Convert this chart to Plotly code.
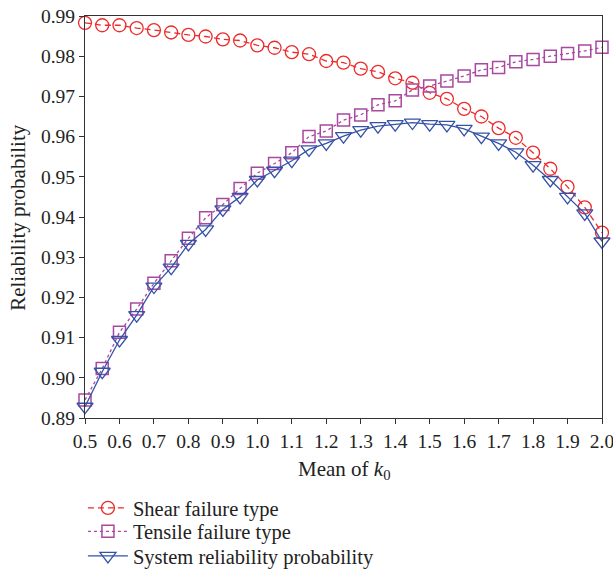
import plotly.graph_objects as go

k0 = [0.5, 0.55, 0.6, 0.65, 0.7, 0.75, 0.8, 0.85, 0.9, 0.95, 1.0, 1.05, 1.1, 1.15, 1.2, 1.25,
      1.3, 1.35, 1.4, 1.45, 1.5, 1.55, 1.6, 1.65, 1.7, 1.75, 1.8, 1.85, 1.9, 1.95, 2.0]

shear = [0.9883, 0.9877, 0.9877, 0.9870, 0.9865, 0.9859, 0.9853, 0.9849, 0.9842, 0.9839,
         0.9827, 0.9821, 0.9810, 0.9805, 0.9788, 0.9784, 0.9769, 0.9761, 0.9745, 0.9734,
         0.9709, 0.9694, 0.9669, 0.9650, 0.9621, 0.9597, 0.9560, 0.9520, 0.9475, 0.9424, 0.9361]

tensile = [0.8945, 0.9023, 0.9113, 0.9171, 0.9235, 0.9291, 0.9347, 0.9398, 0.9431, 0.9471,
           0.9509, 0.9533, 0.9560, 0.9600, 0.9614, 0.9641, 0.9654, 0.9679, 0.9689, 0.9716,
           0.9726, 0.9738, 0.9751, 0.9766, 0.9772, 0.9786, 0.9792, 0.9800, 0.9807, 0.9813, 0.9822]

system = [0.8928, 0.9015, 0.9094, 0.9156, 0.9227, 0.9274, 0.9333, 0.9369, 0.9419, 0.9450,
          0.9492, 0.9515, 0.9540, 0.9568, 0.9583, 0.9601, 0.9616, 0.9626, 0.9631, 0.9635,
          0.9631, 0.9629, 0.9619, 0.9600, 0.9583, 0.9561, 0.9529, 0.9492, 0.9450, 0.9409, 0.9339]

names = ["Shear failure type", "Tensile failure type", "System reliability probability"]
x_ticks = [0.5, 0.6, 0.7, 0.8, 0.9, 1.0, 1.1, 1.2, 1.3, 1.4, 1.5, 1.6, 1.7, 1.8, 1.9, 2.0]
y_ticks = [0.89, 0.90, 0.91, 0.92, 0.93, 0.94, 0.95, 0.96, 0.97, 0.98, 0.99]
x_title = "Mean of <i>k</i><sub>0</sub>"
y_title = "Reliability probability"

FONT = "Liberation Serif"
RED = "#ee2a2a"
PURPLE = "#a8489e"
BLUE = "#3552a8"

fig = go.Figure()
fig.add_trace(go.Scatter(
    x=k0, y=shear, name=names[0], mode="lines+markers", cliponaxis=False, legend="legend",
    line=dict(color=RED, width=1.3, dash="6px,4px"),
    marker=dict(symbol="circle-open", size=13, color=RED, line=dict(width=1.3)),
))
fig.add_trace(go.Scatter(
    x=k0, y=tensile, name=names[1], mode="lines+markers", cliponaxis=False, legend="legend2",
    line=dict(color=PURPLE, width=1.3, dash="dot"),
    marker=dict(symbol="square-open", size=12, color=PURPLE, line=dict(width=1.5)),
))
fig.add_trace(go.Scatter(
    x=k0, y=system, name=names[2], mode="lines+markers", cliponaxis=False, legend="legend3",
    line=dict(color=BLUE, width=1.3),
    marker=dict(symbol="triangle-down-open", size=14, color=BLUE, line=dict(width=1.3)),
))

def leg(y):
    return dict(x=-0.004, y=y, xanchor="left", yanchor="middle",
                font=dict(family=FONT, size=20.5, color="#222"),
                itemwidth=40, bgcolor="rgba(0,0,0,0)")

fig.update_layout(
    width=613, height=574,
    margin=dict(l=85, r=11, t=16, b=156, autoexpand=False),
    paper_bgcolor="white", plot_bgcolor="white",
    font=dict(family=FONT, size=20, color="#222"),
    showlegend=True,
    legend=leg(-0.2239),
    legend2=leg(-0.2823),
    legend3=leg(-0.3433),
    xaxis=dict(
        range=[0.5, 2.0], tickvals=x_ticks, ticktext=[f"{v:.1f}" for v in x_ticks],
        showline=True, linecolor="#333", linewidth=1.2, mirror=True,
        ticks="outside", ticklen=5, tickcolor="#333", showgrid=False, zeroline=False,
        tickfont=dict(family=FONT, size=19.5), ticklabeloverflow="allow",
    ),
    yaxis=dict(
        range=[0.89, 0.99], tickvals=y_ticks, ticktext=[f"{v:.2f}" for v in y_ticks],
        showline=True, linecolor="#333", linewidth=1.2, mirror=True,
        ticks="outside", ticklen=5, tickcolor="#333", showgrid=False, zeroline=False,
        tickfont=dict(family=FONT, size=19.5), ticklabeloverflow="allow",
    ),
    annotations=[
        dict(text=x_title, xref="paper", yref="paper", x=0.5, y=-0.129,
             xanchor="center", yanchor="middle", showarrow=False,
             font=dict(family=FONT, size=21, color="#222")),
        dict(text=y_title, xref="paper", yref="paper", x=-0.13, y=0.5, textangle=-90,
             xanchor="center", yanchor="middle", showarrow=False,
             font=dict(family=FONT, size=21, color="#222")),
    ],
)

fig.write_html("out.html")
